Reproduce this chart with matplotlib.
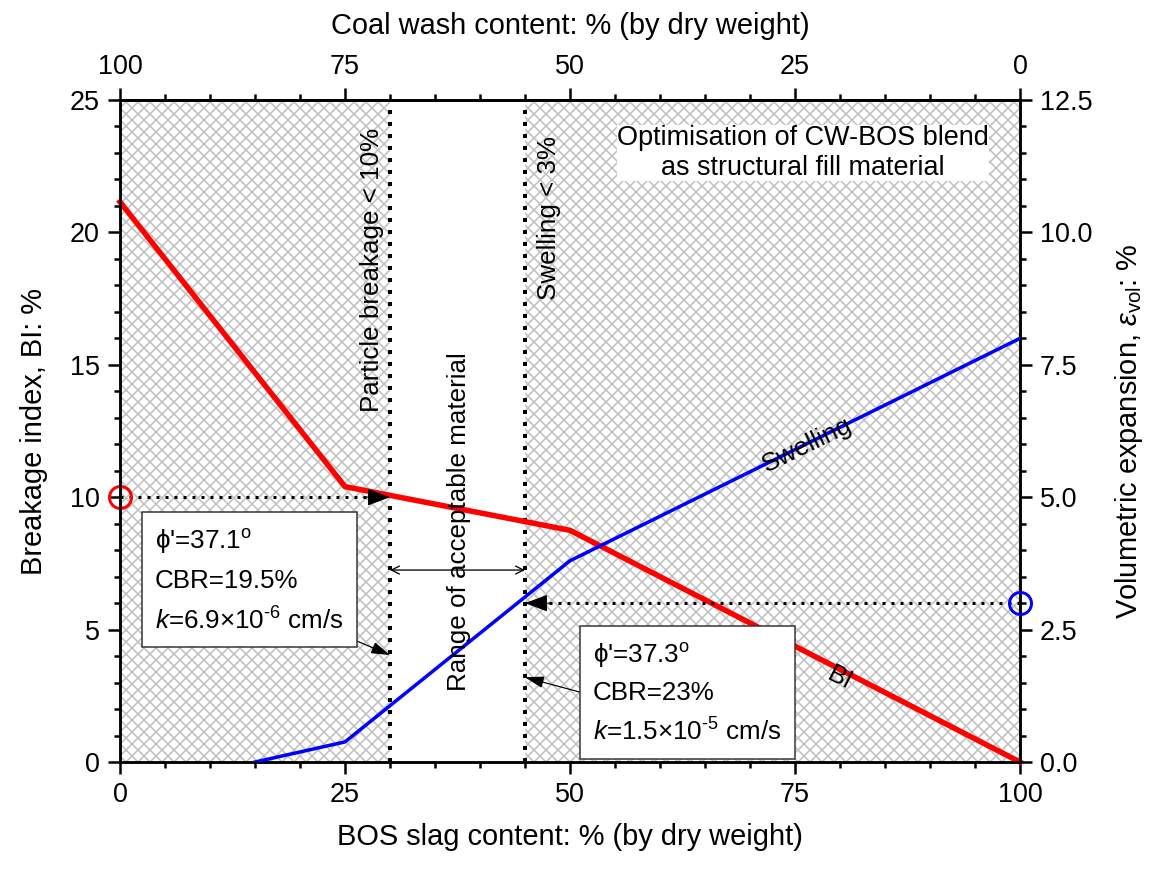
import matplotlib
matplotlib.use("Agg")
import matplotlib.pyplot as plt
from matplotlib.ticker import MultipleLocator, FixedLocator, FormatStrFormatter

# data
bos = [0, 25, 50, 100]               # BOS slag content, %
bi = [21.15, 10.4, 8.75, 0.0]        # breakage index, %
bos_sw = [15, 25, 50, 100]
swell = [0.0, 0.38, 3.8, 8.0]        # volumetric expansion, %
bi_limit = 10.0                      # particle breakage < 10 %
sw_limit = 3.0                       # swelling < 3 %
x_bi_limit = 30                      # BOS content where BI = 10 %
x_sw_limit = 45                      # BOS content where swelling = 3 %
cw_ticks = [0, 25, 50, 75, 100]      # coal wash content ticks

plt.rcParams["font.family"] = ["Liberation Sans", "DejaVu Sans"]
plt.rcParams["mathtext.fontset"] = "custom"
plt.rcParams["mathtext.rm"] = "Liberation Sans"
plt.rcParams["mathtext.it"] = "Liberation Sans:italic"
plt.rcParams["hatch.linewidth"] = 1.5
plt.rcParams["hatch.color"] = "#bebebe"

fs = 26      # text inside the plot
tfs = 27     # tick labels
lfs = 29     # axis labels
fig = plt.figure(figsize=(1157 / 72, 871 / 72), dpi=72)
ax = fig.add_axes([0.1037, 0.1251, 0.7779, 0.7601])
ax2 = ax.twinx()

# hatched (unacceptable) zones
for a, b in [(0, x_bi_limit), (x_sw_limit, 100)]:
    ax.axvspan(a, b, facecolor="white", edgecolor="#bebebe", hatch="xx", lw=0, zorder=0)

ax.plot(bos, bi, color="red", lw=5.5, zorder=3, clip_on=False)
ax2.plot(bos_sw, swell, color="blue", lw=3.5, zorder=3)

# limit lines
for xv in (x_bi_limit, x_sw_limit):
    ax.plot([xv, xv], [0, 25], color="black", lw=4, ls=(0, (1, 2)), zorder=2)

# threshold markers and dotted arrows
ax.plot([0], [bi_limit], "o", ms=22, mfc="none", mec="red", mew=3, clip_on=False, zorder=5)
ax2.plot([100], [sw_limit], "o", ms=22, mfc="none", mec="blue", mew=3, clip_on=False, zorder=5)
ax.plot([0, x_bi_limit - 2], [bi_limit, bi_limit], color="black", lw=3, ls=(0, (1, 2)), zorder=2)
ax2.plot([100, x_sw_limit + 2], [sw_limit, sw_limit], color="black", lw=3, ls=(0, (1, 2)), zorder=2)
head = dict(arrowstyle="-|>,head_length=0.8,head_width=0.3", color="black", lw=1,
            mutation_scale=25, shrinkA=0, shrinkB=0)
ax.annotate("", xy=(x_bi_limit, bi_limit), xytext=(x_bi_limit - 3, bi_limit), arrowprops=head, zorder=4)
ax2.annotate("", xy=(x_sw_limit, sw_limit), xytext=(x_sw_limit + 3, sw_limit), arrowprops=head, zorder=4)

# range of acceptable material
ax2.annotate("", xy=(x_bi_limit, 7.25), xytext=(x_sw_limit, 7.25), xycoords=ax.transData,
             textcoords=ax.transData,
             arrowprops=dict(arrowstyle="<->", color="black", lw=1.3, mutation_scale=20,
                             shrinkA=0, shrinkB=0))

# labels inside
tk = dict(fontsize=fs, transform=ax.transData, ha="center", va="center")
ax2.text(28.0, 18.6, "Particle breakage < 10%", rotation=90, **tk)
ax2.text(47.7, 20.55, "Swelling < 3%", rotation=90, **tk)
ax2.text(37.7, 9.06, "Range of acceptable material", rotation=90, **tk)
ax2.text(75.9, 23.0, "Optimisation of CW-BOS blend\nas structural fill material", linespacing=1.2,
         bbox=dict(facecolor="white", edgecolor="none", pad=0), fontsize=27,
         transform=ax.transData, ha="center", va="center")
ax2.text(76.4, 11.97, "Swelling", rotation=26, **tk)
ax2.text(80.0, 3.17, "BI", rotation=-27, **tk)

box = dict(boxstyle="square,pad=0.5", facecolor="white", edgecolor="#333333", lw=1.5)
ax2.text(3.9, 6.84, "\u03d5'=37.1$^{\\rm o}$\nCBR=19.5%\n$\\it{k}$=6.9\u00d710$^{\\text{-6}}$ cm/s",
         fontsize=fs, transform=ax.transData, ha="left", va="center", linespacing=1.65, bbox=box, zorder=6)
ax2.text(52.55, 2.6, "\u03d5'=37.3$^{\\rm o}$\nCBR=23%\n$\\it{k}$=1.5\u00d710$^{\\text{-5}}$ cm/s",
         fontsize=fs, transform=ax.transData, ha="left", va="center", linespacing=1.6, bbox=box, zorder=6)
thin = dict(arrowstyle="-|>,head_length=0.8,head_width=0.25", color="black", lw=1.2,
            mutation_scale=20, shrinkA=0, shrinkB=0)
ax2.annotate("", xy=(x_bi_limit, 4.04), xytext=(26.1, 4.6), xycoords=ax.transData,
             textcoords=ax.transData, arrowprops=thin)
ax2.annotate("", xy=(x_sw_limit, 3.2), xytext=(51.1, 2.64), xycoords=ax.transData,
             textcoords=ax.transData, arrowprops=thin)

# axes
ax.set_xlim(0, 100)
ax.set_ylim(0, 25)
ax2.set_ylim(0, 12.5)
ax.xaxis.set_major_locator(MultipleLocator(25))
ax.xaxis.set_minor_locator(MultipleLocator(5))
ax.yaxis.set_major_locator(MultipleLocator(5))
ax.yaxis.set_minor_locator(MultipleLocator(1))
ax2.yaxis.set_major_locator(MultipleLocator(2.5))
ax2.yaxis.set_minor_locator(MultipleLocator(0.5))
ax2.yaxis.set_major_formatter(FormatStrFormatter("%.1f"))

top = ax.secondary_xaxis("top", functions=(lambda x: 100 - x, lambda x: 100 - x))
top.xaxis.set_major_locator(FixedLocator(cw_ticks))
top.xaxis.set_minor_locator(FixedLocator(list(range(5, 100, 5))))

for a in (ax, ax2, top):
    for s in a.spines.values():
        s.set_linewidth(2.5)
    a.tick_params(which="major", direction="out", length=12, width=2.5, labelsize=tfs, pad=8)
    a.tick_params(which="minor", direction="out", length=6, width=2.5)

ax.set_xlabel("BOS slag content: % (by dry weight)", fontsize=lfs, labelpad=15)
ax.set_ylabel("Breakage index, BI: %", fontsize=lfs, labelpad=22)
ax2.set_ylabel("Volumetric expansion, $\\varepsilon_{\\rm vol}$: %", fontsize=lfs, labelpad=20)
top.set_xlabel("Coal wash content: % (by dry weight)", fontsize=lfs, labelpad=20)

fig.savefig("out.png", dpi=72)
